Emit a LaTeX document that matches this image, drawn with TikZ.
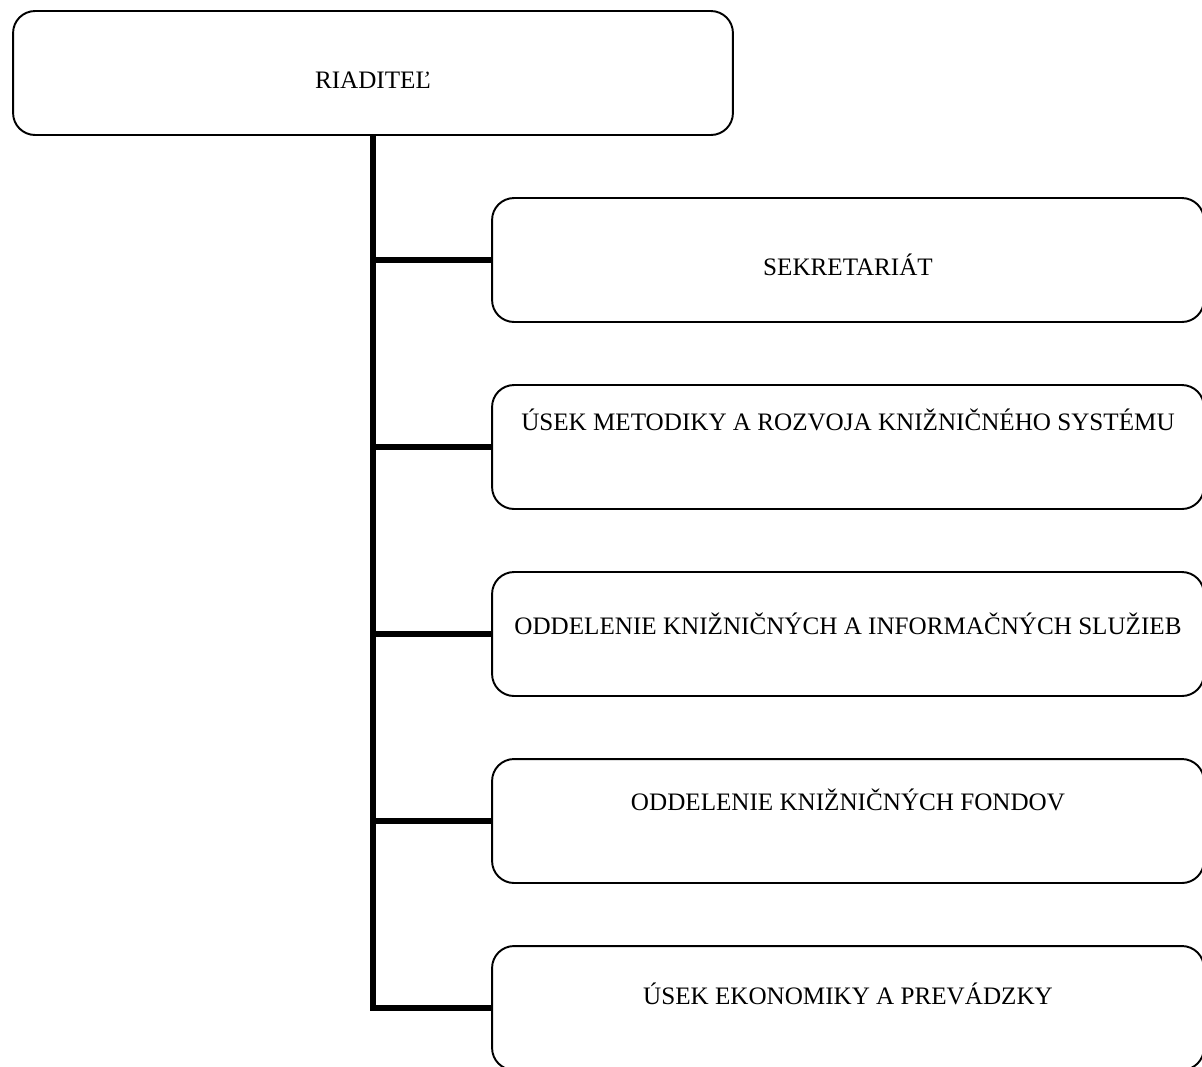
\documentclass[tikz,border=0pt]{standalone}
\usepackage{fontspec}
\setmainfont{Liberation Serif}
\usepackage{tikz}

\begin{document}
\begin{tikzpicture}[x=0.02cm,y=-0.02cm,font=\fontsize{14.3}{17}\selectfont,
    unit/.style={draw,line width=1.1pt,rounded corners=0.44cm,minimum width=14.24cm,minimum height=2.48cm,inner sep=0pt},
    link/.style={line width=3.4pt}]
  \useasboundingbox (0,0) rectangle (1202,1066);
  % boxes
  \node[unit,minimum width=14.4cm,label={[yshift=-0.14cm]center:RIADITEĽ}] (dir) at (373,73) {};
  \node[unit,label={[yshift=-0.10cm]center:SEKRETARIÁT}] (sekr) at (848,260) {};
  \node[unit,label={[yshift=0.54cm]center:ÚSEK METODIKY A ROZVOJA KNIŽNIČNÉHO SYSTÉMU}] (metod) at (848,447) {};
  \node[unit,label={[yshift=0.20cm]center:ODDELENIE KNIŽNIČNÝCH A INFORMAČNÝCH SLUŽIEB}] (sluz) at (848,634) {};
  \node[unit,label={[yshift=0.42cm]center:ODDELENIE KNIŽNIČNÝCH FONDOV}] (fond) at (848,821) {};
  \node[unit,label={[yshift=0.28cm]center:ÚSEK EKONOMIKY A PREVÁDZKY}] (ekon) at (848,1008) {};
  % lines
  \draw[link] (dir.south) |- (ekon.west);
  \foreach \b in {sekr,metod,sluz,fond}
    \draw[link] (dir.south |- \b.west) -- (\b.west);
\end{tikzpicture}
\end{document}
